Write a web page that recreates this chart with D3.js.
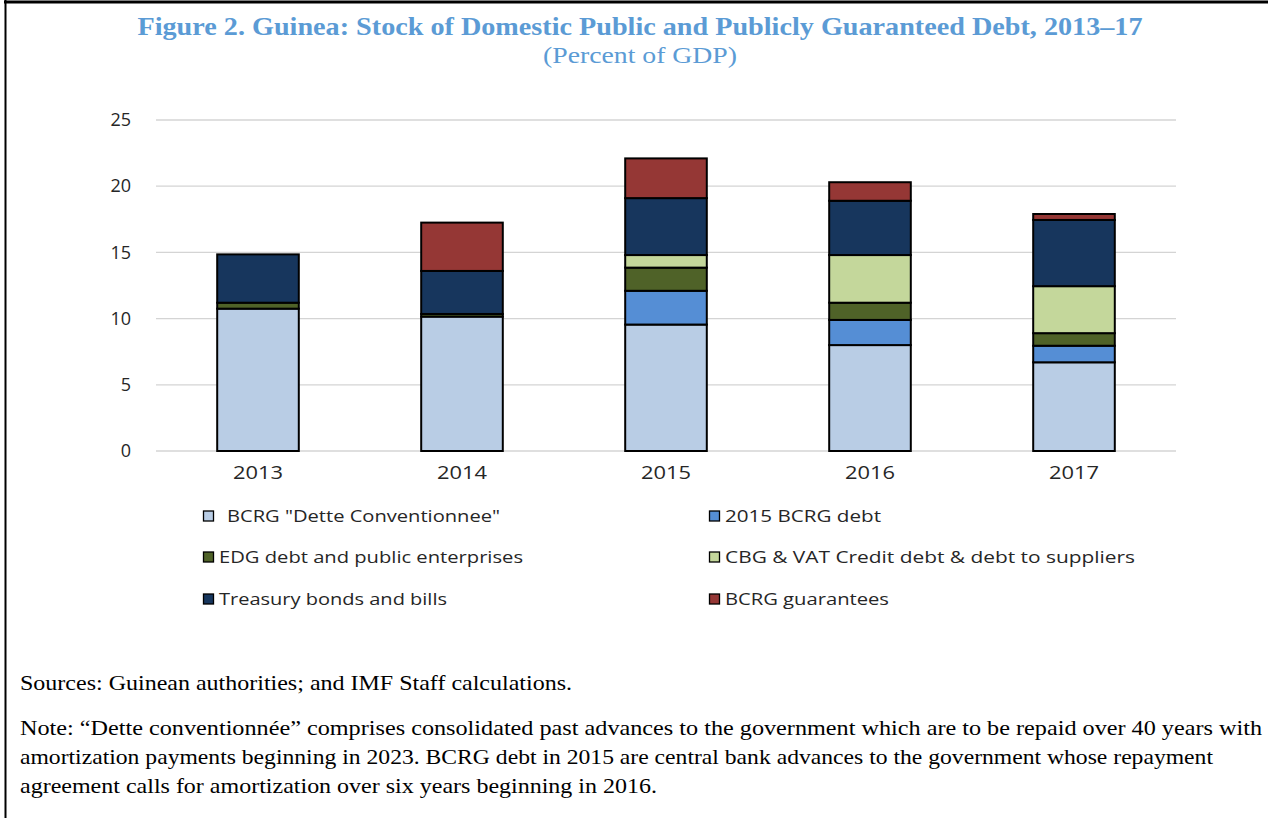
<!DOCTYPE html>
<html>
<head>
<meta charset="utf-8">
<script src="https://cdn.jsdelivr.net/npm/d3@7"></script>
<style>
  html, body { margin: 0; padding: 0; background: #fff; }
  svg { display: block; }
</style>
</head>
<body>
<svg id="chart" width="1276" height="818"></svg>
<script>
// Years on the category axis
const years = ["2013", "2014", "2015", "2016", "2017"];

// Debt components, percent of GDP (stacked bottom to top)
const bcrgConventionnee = [10.75, 10.15, 9.55, 8.0, 6.7];
const bcrg2015 = [0, 0, 2.55, 1.9, 1.25];
const edgPublicEnterprises = [0.45, 0.2, 1.75, 1.3, 0.95];
const cbgVatSuppliers = [0, 0, 0.95, 3.6, 3.55];
const treasuryBondsBills = [3.65, 3.25, 4.3, 4.1, 5.0];
const bcrgGuarantees = [0, 3.65, 3.0, 1.4, 0.45];

// Value-axis ticks
const yTicks = [0, 5, 10, 15, 20, 25];

const seriesNames = [
  " BCRG \"Dette Conventionnee\"",
  "2015 BCRG debt",
  "EDG debt and public enterprises",
  "CBG & VAT Credit debt & debt to suppliers",
  "Treasury bonds and bills",
  "BCRG guarantees"
];
const seriesValues = [bcrgConventionnee, bcrg2015, edgPublicEnterprises,
                      cbgVatSuppliers, treasuryBondsBills, bcrgGuarantees];
const seriesColors = ["#B9CDE5", "#558ED5", "#4F6228", "#C4D79B", "#17365D", "#953735"];

const svg = d3.select("#chart");

// Page frame
svg.append("line").attr("x1", 4).attr("x2", 1268).attr("y1", 2).attr("y2", 2)
  .attr("stroke", "#000").attr("stroke-width", 3);
svg.append("line").attr("x1", 5.5).attr("x2", 5.5).attr("y1", 0).attr("y2", 818)
  .attr("stroke", "#000").attr("stroke-width", 2);

// Title and subtitle
svg.append("text").attr("x", 640).attr("y", 35).attr("text-anchor", "middle")
  .attr("font-family", "'Liberation Serif', 'Times New Roman', serif")
  .attr("font-weight", "bold").attr("font-size", 25).attr("fill", "#5B9BD5")
  .attr("textLength", 1005).attr("lengthAdjust", "spacingAndGlyphs")
  .text("Figure 2. Guinea: Stock of Domestic Public and Publicly Guaranteed Debt, 2013\u201317");
svg.append("text").attr("x", 640).attr("y", 63).attr("text-anchor", "middle")
  .attr("font-family", "'Liberation Serif', 'Times New Roman', serif")
  .attr("font-size", 24).attr("fill", "#5B9BD5")
  .attr("textLength", 194).attr("lengthAdjust", "spacingAndGlyphs")
  .text("(Percent of GDP)");

// Scales
const x = d3.scaleBand().domain(years).range([156, 1176]).paddingInner(0.6).paddingOuter(0.3);
const y = d3.scaleLinear().domain([0, 25]).range([451, 120]);

// Gridlines
svg.append("g").selectAll("line").data(yTicks).join("line")
  .attr("x1", 156).attr("x2", 1176)
  .attr("y1", d => y(d)).attr("y2", d => y(d))
  .attr("stroke", "#d4d4d4").attr("stroke-width", 1.3);

// Y axis labels
const yAxis = svg.append("g").attr("transform", "translate(140,0)")
  .call(d3.axisLeft(y).tickValues(yTicks).tickSize(0).tickPadding(9));
yAxis.select(".domain").remove();
yAxis.selectAll("text")
  .attr("font-family", "'Open Sans', 'Noto Sans', sans-serif")
  .attr("font-size", 18).attr("fill", "#262626");

// X axis labels
const xAxis = svg.append("g").attr("transform", "translate(0,451)")
  .call(d3.axisBottom(x).tickSize(0).tickPadding(15));
xAxis.select(".domain").remove();
xAxis.selectAll("text")
  .attr("font-family", "'Open Sans', 'Noto Sans', sans-serif")
  .attr("font-size", 18).attr("fill", "#262626")
  .attr("textLength", 50).attr("lengthAdjust", "spacingAndGlyphs");

// Stacked bars
const table = years.map((yr, i) => {
  const row = { year: yr };
  seriesNames.forEach((n, k) => { row[n] = seriesValues[k][i]; });
  return row;
});
const stacked = d3.stack().keys(seriesNames)(table);

svg.append("g").selectAll("g").data(stacked).join("g")
  .attr("fill", (d, i) => seriesColors[i])
  .selectAll("rect").data(d => d.filter(p => p[1] - p[0] > 0)).join("rect")
  .attr("x", d => x(d.data.year))
  .attr("width", x.bandwidth())
  .attr("y", d => y(d[1]))
  .attr("height", d => y(d[0]) - y(d[1]))
  .attr("stroke", "#000").attr("stroke-width", 2);

// Legend
const legendPos = [
  { x: 203, y: 516, w: 273 }, { x: 709, y: 516, w: 156 },
  { x: 203, y: 557, w: 304 }, { x: 709, y: 557, w: 410 },
  { x: 203, y: 599, w: 228 }, { x: 709, y: 599, w: 164 }
];
const legend = svg.append("g").selectAll("g").data(seriesNames).join("g")
  .attr("transform", (d, i) => `translate(${legendPos[i].x},${legendPos[i].y})`);
legend.append("rect").attr("x", 0.5).attr("y", -5).attr("width", 10).attr("height", 10)
  .attr("fill", (d, i) => seriesColors[i]).attr("stroke", "#000").attr("stroke-width", 1.3);
legend.append("text").attr("x", (d, i) => i === 0 ? 24 : 16).attr("y", 6)
  .attr("font-family", "'Open Sans', 'Noto Sans', sans-serif")
  .attr("font-size", 16).attr("fill", "#262626")
  .attr("textLength", (d, i) => legendPos[i].w).attr("lengthAdjust", "spacingAndGlyphs")
  .text(d => d.trim());

// Sources and notes
const notes = [
  { t: "Sources: Guinean authorities; and IMF Staff calculations.", y: 690, w: 552 },
  { t: "Note: \u201cDette conventionn\u00e9e\u201d comprises consolidated past advances to the government which are to be repaid over 40 years with", y: 735, w: 1242 },
  { t: "amortization payments beginning in 2023. BCRG debt in 2015 are central bank advances to the government whose repayment", y: 764, w: 1193 },
  { t: "agreement calls for amortization over six years beginning in 2016.", y: 793, w: 637 }
];
svg.append("g").selectAll("text").data(notes).join("text")
  .attr("x", 20).attr("y", d => d.y)
  .attr("font-family", "'Liberation Serif', 'Times New Roman', serif")
  .attr("font-size", 21).attr("fill", "#000")
  .attr("textLength", d => d.w).attr("lengthAdjust", "spacingAndGlyphs")
  .text(d => d.t);
</script>
</body>
</html>
